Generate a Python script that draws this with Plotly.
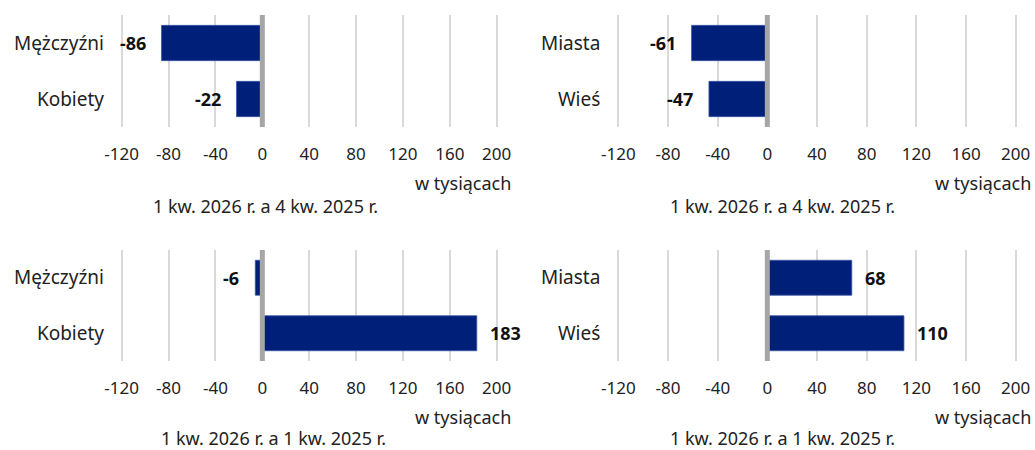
import plotly.graph_objects as go

# ---- data ----
sex_categories = ["Mężczyźni", "Kobiety"]
place_categories = ["Miasta", "Wieś"]
sex_q_on_q = [-86, -22]        # 1 kw. 2026 vs 4 kw. 2025
place_q_on_q = [-61, -47]
sex_y_on_y = [-6, 183]         # 1 kw. 2026 vs 1 kw. 2025
place_y_on_y = [68, 110]
tick_values = [-120, -80, -40, 0, 40, 80, 120, 160, 200]
tick_labels = ["-120", "-80", "-40", "0", "40", "80", "120", "160", "200"]
unit_label = "w tysiącach"
subtitle_q = "1 kw. 2026 r. a 4 kw. 2025 r."
subtitle_y = "1 kw. 2026 r. a 1 kw. 2025 r."

W, H = 1035, 450
FONT = "Noto Sans"
BAR = "#001f78"
TXT = "#222222"
XMIN, XMAX, PAD = -120, 200, 4

panels = [
    # (categories, values, px of -120 and 200, y-px range, subtitle, subtitle center px, unit right px)
    (sex_categories, sex_q_on_q, (121.7, 496.7), (15, 127), subtitle_q, 265, 513),
    (place_categories, place_q_on_q, (618.3, 1015.7), (15, 127), subtitle_q, 782, 1033),
    (sex_categories, sex_y_on_y, (121.7, 496.7), (250, 361), subtitle_y, 273, 513),
    (place_categories, place_y_on_y, (618.3, 1015.7), (250, 361), subtitle_y, 782, 1033),
]

fig = go.Figure()
annotations = []
shapes = []
for i, (cats, vals, (p0, p1), (y0, y1), sub, subx, unitx) in enumerate(panels, start=1):
    xa = "x" if i == 1 else f"x{i}"
    ya = "y" if i == 1 else f"y{i}"
    ppu = (p1 - p0) / (XMAX - XMIN)
    x0, x1 = p0 - PAD * ppu, p1 + PAD * ppu
    fig.add_trace(go.Bar(
        x=vals, y=cats, orientation="h", xaxis=xa, yaxis=ya,
        marker=dict(color=BAR, line=dict(color="#3a56a8", width=0.8)),
        width=0.63, showlegend=False, hoverinfo="x+y",
    ))
    for c, v in zip(cats, vals):
        annotations.append(dict(
            x=v, y=c, xref=xa, yref=ya, text=f"<b>{v}</b>", showarrow=False,
            xanchor="right" if v < 0 else "left", xshift=-14 if v < 0 else 11,
            font=dict(family=FONT, size=18, color="#111111"),
        ))
    shapes.append(dict(type="line", xref=xa, yref=f"{ya} domain", x0=0, x1=0, y0=0, y1=1,
                       line=dict(color="#a6a6a6", width=5), layer="above"))
    unity = 183 if y0 < 200 else 417
    annotations.append(dict(x=unitx / W, y=1 - unity / H, xref="paper", yref="paper",
                            text=unit_label, showarrow=False, xanchor="right", yanchor="middle",
                            font=dict(family=FONT, size=18, color=TXT)))
    suby = 206 if y0 < 200 else 438
    annotations.append(dict(x=subx / W, y=1 - suby / H, xref="paper", yref="paper",
                            text=sub, showarrow=False, xanchor="center", yanchor="middle",
                            font=dict(family=FONT, size=18, color=TXT)))
    xkey = "xaxis" if i == 1 else f"xaxis{i}"
    ykey = "yaxis" if i == 1 else f"yaxis{i}"
    fig.update_layout(**{
        xkey: dict(domain=[x0 / W, x1 / W], range=[XMIN - PAD, XMAX + PAD], anchor=ya,
                   tickvals=tick_values, ticktext=tick_labels, automargin=False,
                   showgrid=True, gridcolor="#d9d9d9", gridwidth=2,
                   zeroline=False, showline=False, ticks="",
                   ticklabelstandoff=15,
                   tickfont=dict(family=FONT, size=17, color=TXT), fixedrange=True),
        ykey: dict(domain=[1 - y1 / H, 1 - y0 / H], anchor=xa, autorange="reversed",
                   categoryorder="array", categoryarray=cats, automargin=False,
                   showgrid=False, zeroline=False, showline=False, ticks="",
                   ticklabelstandoff=12,
                   tickfont=dict(family=FONT, size=19, color=TXT), fixedrange=True),
    })

fig.update_layout(
    width=W, height=H, margin=dict(l=0, r=0, t=0, b=0, autoexpand=False),
    paper_bgcolor="white", plot_bgcolor="white",
    annotations=annotations, shapes=shapes, bargap=0.37,
    font=dict(family=FONT, color=TXT),
)
fig.write_html("out.html", config={"displayModeBar": False},
               post_script="document.body.style.margin='0';document.body.style.overflow='hidden';")
